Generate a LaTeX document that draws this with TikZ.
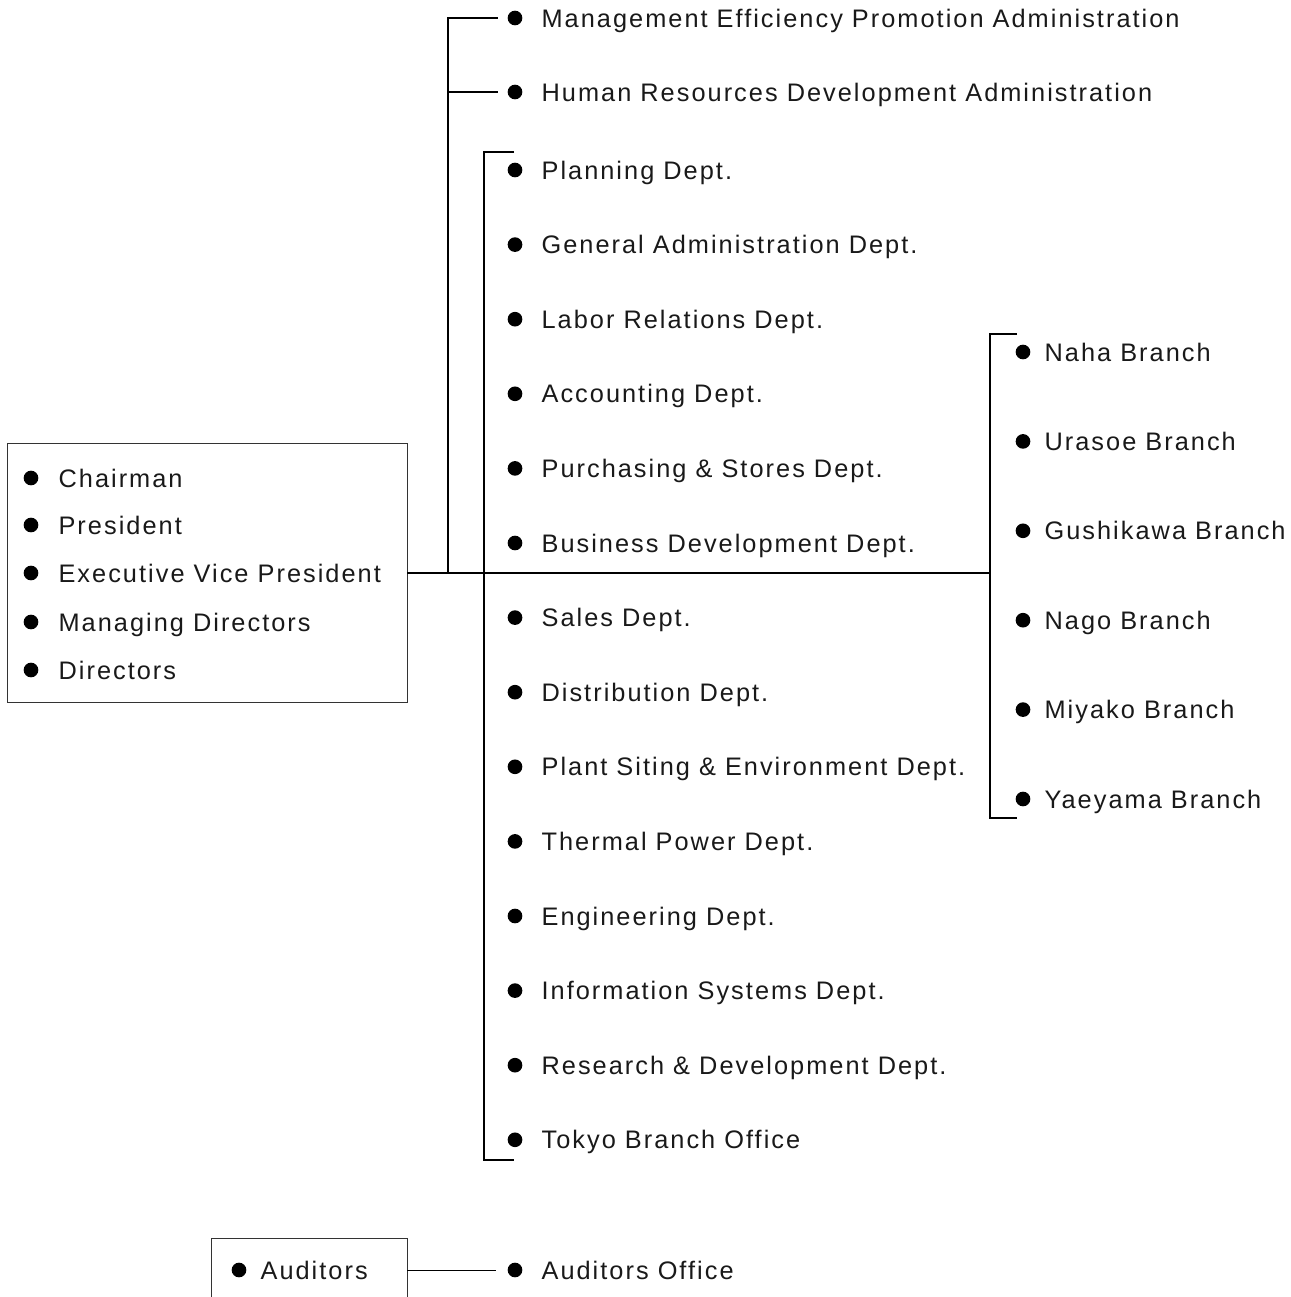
\documentclass[tikz,border=0pt]{standalone}
\usepackage{fontspec}
\setmainfont{Liberation Sans}[LetterSpace=8]
\usetikzlibrary{positioning}

\tikzset{
  dot/.style={circle,fill=black,inner sep=0,minimum size=11pt},
  itemtext/.style={anchor=west,inner xsep=0,inner ysep=0,text=black!90,
    text height=13.6pt,text depth=0pt,font=\fontsize{19}{22}\selectfont},
  framebox/.style={draw=black!80,line width=.7pt,inner sep=0}
}

\begin{document}
\begin{tikzpicture}[x=.75pt,y=-.75pt,line width=.9pt]
      \clip (0,0) rectangle (1291,1297);
      \node[framebox,minimum width=300pt,minimum height=194.25pt] (board) at (207,573) {};
      \foreach \y/\n/\t in {478/1/Chairman,525/2/President,
          573/3/Executive Vice President,622/4/Managing Directors,670/5/Directors}{
        \node[dot] (b\n) at (31,\y) {};
        \node[itemtext] (bt\n) at (58,\y) {\t};
      }
      \node[dot] (a1) at (515,18) {};
      \node[itemtext] (at1) at (541,18) {Management Efficiency Promotion Administration};
      \node[dot] (a2) at (515,92) {};
      \node[itemtext] (at2) at (541,92) {Human Resources Development Administration};
      \foreach \t [count=\i] in {Planning Dept.,General Administration Dept.,
          Labor Relations Dept.,Accounting Dept.,Purchasing \& Stores Dept.,
          Business Development Dept.,Sales Dept.,Distribution Dept.,
          Plant Siting \& Environment Dept.,Thermal Power Dept.,Engineering Dept.,
          Information Systems Dept.,Research \& Development Dept.,Tokyo Branch Office}{
        \node[dot] (d\i) at (515,{170+74.6*(\i-1)}) {};
        \node[itemtext] (dt\i) at (541,{170+74.6*(\i-1)}) {\t};
      }
      \foreach \t [count=\i] in {Naha,Urasoe,Gushikawa,Nago,Miyako,Yaeyama}{
        \node[dot] (r\i) at (1023,{352+89.4*(\i-1)}) {};
        \node[itemtext] (rt\i) at (1044,{352+89.4*(\i-1)}) {\t\ Branch};
      }
      \coordinate (j1) at (448,573);
      \coordinate (j2) at (484,573);
      \coordinate (j3) at (990,573);
      \coordinate (dtop) at (514,152);
      \coordinate (dbot) at (514,1160);
      \coordinate (btop) at (1017,334);
      \coordinate (bbot) at (1017,818);
      \draw (board.east) -- (j3);
      \draw[shorten >=7pt] (j1) |- (a1.west);
      \draw[shorten >=7pt] (j1) |- (a2.west);
      \draw (dtop) -- (dtop -| j2) -- (dbot -| j2) -- (dbot);
      \draw (btop) -- (btop -| j3) -- (bbot -| j3) -- (bbot);
      \node[framebox,minimum width=147pt,minimum height=48pt] (aud) at (309,1270) {};
      \node[dot] (au) at (239,1270) {};
      \node[itemtext] (aut) at (260,1270) {Auditors};
      \node[dot] (ao) at (515,1270) {};
      \node[itemtext] (aot) at (541,1270) {Auditors Office};
      \draw[line width=.7pt,shorten >=8pt] (aud.east) -- (ao.west);
    \end{tikzpicture}
\end{document}
